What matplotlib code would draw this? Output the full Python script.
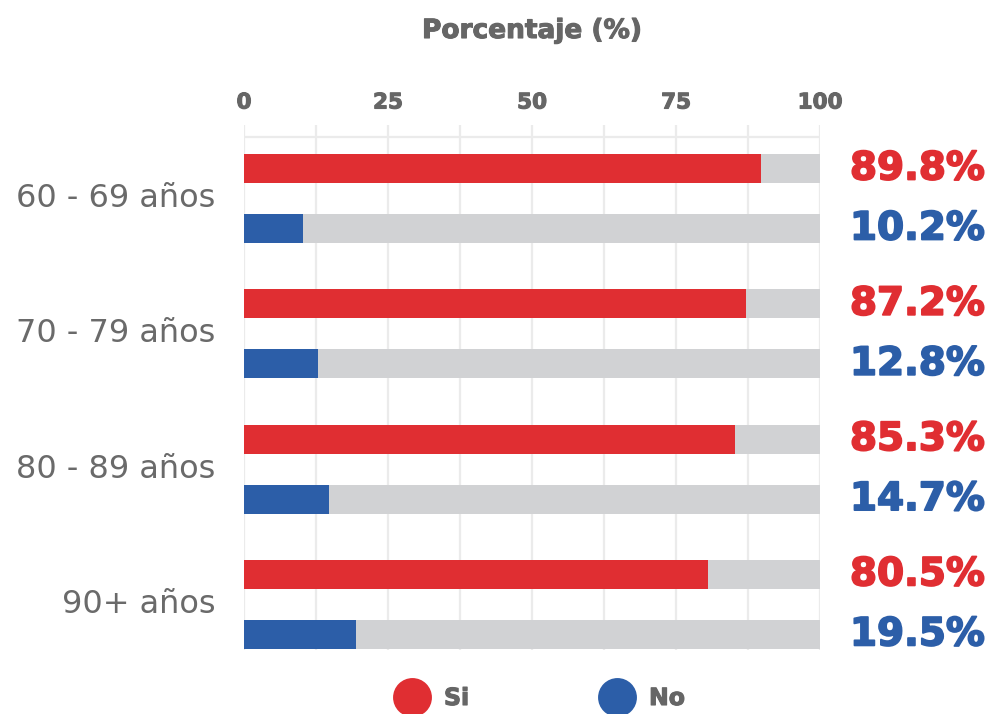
import matplotlib
matplotlib.use("Agg")
import matplotlib.pyplot as plt
from matplotlib.lines import Line2D
import matplotlib.patheffects as pe

# Data
groups = ["60 - 69 años", "70 - 79 años", "80 - 89 años", "90+ años"]
si_vals = [89.8, 87.2, 85.3, 80.5]
no_vals = [10.2, 12.8, 14.7, 19.5]
x_ticks = [0, 25, 50, 75, 100]
series_names = ["Si", "No"]

RED = "#E02E32"
BLUE = "#2C5EA8"
TRACK = "#D1D2D4"
GRID = "#EBEBEB"
TEXT = "#666666"
BOLD = "DejaVu Sans"


def heavy(color, w=1.0):
    # thicken bold glyphs with a same-coloured outline
    return [pe.withStroke(linewidth=w, foreground=color)]


W, H = 994, 714
fig = plt.figure(figsize=(W / 100, H / 100), dpi=100)
fig.patch.set_facecolor("white")

left, right, top, bottom = 244, 820, 125, 650
ax = fig.add_axes([left / W, 1 - bottom / H, (right - left) / W, (bottom - top) / H])

spacing = 135.3
off = 30.0 / spacing
bh = 29.0 / spacing
y0_px = 198.5

ax.set_xlim(0, 100)
ax.set_ylim((bottom - y0_px) / spacing, (top - y0_px) / spacing)

# vertical grid every 12.5
for gx in [i * 12.5 for i in range(9)]:
    ax.axvline(gx, color=GRID, lw=1.6, zorder=0)
ax.axhline((137 - y0_px) / spacing, color=GRID, lw=1.6, zorder=0)

for i, (s, n) in enumerate(zip(si_vals, no_vals)):
    ys, yn = i - off, i + off
    ax.barh(ys, 100, height=bh, color=TRACK, zorder=1)
    ax.barh(yn, 100, height=bh, color=TRACK, zorder=1)
    ax.barh(ys, s, height=bh, color=RED, zorder=2)
    ax.barh(yn, n, height=bh, color=BLUE, zorder=2)
    ax.text(105.2, ys, f"{s:.1f}%", color=RED, fontsize=28, fontweight="bold",
            family=BOLD, va="center", ha="left", clip_on=False,
            path_effects=heavy(RED, 1.3))
    ax.text(105.2, yn, f"{n:.1f}%", color=BLUE, fontsize=28, fontweight="bold",
            family=BOLD, va="center", ha="left", clip_on=False,
            path_effects=heavy(BLUE, 1.3))
    ax.text(-5.0, i, groups[i], color="#6a6a6a", fontsize=23, fontweight="normal",
            family="DejaVu Sans", va="center", ha="right", clip_on=False)

for sp in ax.spines.values():
    sp.set_visible(False)
ax.set_yticks([])
ax.set_xticks(x_ticks)
ax.xaxis.tick_top()
ax.tick_params(axis="x", length=0, pad=9)
for lbl in ax.get_xticklabels():
    lbl.set_fontfamily(BOLD)
    lbl.set_fontweight("bold")
    lbl.set_fontsize(15.5)
    lbl.set_color(TEXT)
    lbl.set_path_effects(heavy(TEXT, 0.8))

fig.text(532 / W, 1 - 31 / H, "Porcentaje (%)", color=TEXT, fontsize=19,
         fontweight="bold", family=BOLD, ha="center", va="center",
         path_effects=heavy(TEXT, 0.8))

# legend
legend_items = [(412, 444, RED, series_names[0]), (617, 649, BLUE, series_names[1])]
for cx, tx, col, name in legend_items:
    fig.add_artist(Line2D([cx / W], [1 - 697 / H], marker="o", markersize=28,
                          color=col, markeredgewidth=0, transform=fig.transFigure))
    fig.text(tx / W, 1 - 698 / H, name, color=TEXT, fontsize=17, fontweight="bold",
             family=BOLD, ha="left", va="center", path_effects=heavy(TEXT, 0.8))

fig.savefig("out.png", dpi=100, facecolor="white")
